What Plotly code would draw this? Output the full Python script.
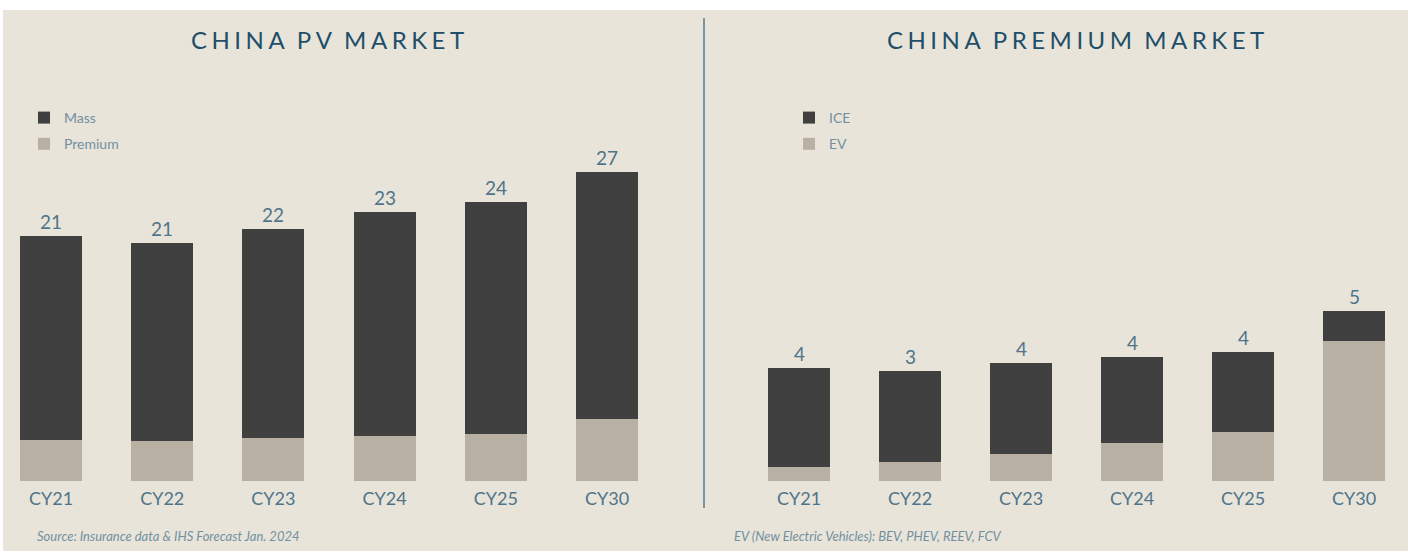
import plotly.graph_objects as go

categories = ["CY21", "CY22", "CY23", "CY24", "CY25", "CY30"]
mass = [17.7, 17.2, 18.2, 19.5, 20.2, 21.5]
premium = [3.57, 3.48, 3.74, 3.92, 4.08, 5.38]
pv_total_labels = ["21", "21", "22", "23", "24", "27"]

ice = [3.13, 2.88, 2.88, 2.72, 2.53, 0.95]
ev = [0.44, 0.60, 0.85, 1.20, 1.55, 4.43]
premium_total_labels = ["4", "3", "4", "4", "4", "5"]

W, H = 1408, 553
DARK = "#404040"
LIGHT = "#B8B0A3"
BG = "#E8E4DA"
TEAL = "#1F4F68"
LABEL = "#4F7489"
SOFT = "#7390A0"
FONT = "Lato"


def px_x(p):
    return p / W


def px_y(p):
    return 1 - p / H


def spaced(s):
    words = s.split(" ")
    return "\u2009 \u2009".join("\u2009\u200A".join(list(w)) for w in words)


fig = go.Figure()

fig.add_trace(go.Bar(x=categories, y=premium, name="Premium", marker=dict(color=LIGHT, line=dict(width=0)),
                     xaxis="x", yaxis="y", legend="legend", legendgroup="premium", legendrank=2,
                     hoverinfo="x+y"))
fig.add_trace(go.Bar(x=categories, y=mass, name="Mass", marker=dict(color=DARK, line=dict(width=0)),
                     xaxis="x", yaxis="y", legend="legend", legendgroup="mass", legendrank=1,
                     hoverinfo="x+y"))
fig.add_trace(go.Bar(x=categories, y=ev, name="EV", marker=dict(color=LIGHT, line=dict(width=0)),
                     xaxis="x2", yaxis="y2", legend="legend2", legendgroup="ev", legendrank=2,
                     hoverinfo="x+y"))
fig.add_trace(go.Bar(x=categories, y=ice, name="ICE", marker=dict(color=DARK, line=dict(width=0)),
                     xaxis="x2", yaxis="y2", legend="legend2", legendgroup="ice", legendrank=1,
                     hoverinfo="x+y"))

annotations = []
pv_totals = [a + b for a, b in zip(mass, premium)]
for c, t, lab in zip(categories, pv_totals, pv_total_labels):
    annotations.append(dict(x=c, y=t, xref="x", yref="y", text=lab, showarrow=False,
                            yanchor="bottom", yshift=1, font=dict(family=FONT, size=19, color=LABEL)))
pr_totals = [a + b for a, b in zip(ice, ev)]
for c, t, lab in zip(categories, pr_totals, premium_total_labels):
    annotations.append(dict(x=c, y=t, xref="x2", yref="y2", text=lab, showarrow=False,
                            yanchor="bottom", yshift=1, font=dict(family=FONT, size=19, color=LABEL)))

annotations += [
    dict(x=px_x(327), y=px_y(40), xref="paper", yref="paper", text=spaced("CHINA PV MARKET"),
         showarrow=False, xanchor="center", yanchor="middle",
         font=dict(family=FONT, size=24, color=TEAL)),
    dict(x=px_x(1075), y=px_y(40), xref="paper", yref="paper", text=spaced("CHINA PREMIUM MARKET"),
         showarrow=False, xanchor="center", yanchor="middle",
         font=dict(family=FONT, size=24, color=TEAL)),
    dict(x=px_x(35), y=px_y(536), xref="paper", yref="paper",
         text="<i>Source: Insurance data &amp; IHS Forecast Jan. 2024</i>",
         showarrow=False, xanchor="left", yanchor="middle",
         font=dict(family=FONT, size=13, color=SOFT)),
    dict(x=px_x(732), y=px_y(536), xref="paper", yref="paper",
         text="<i>EV (New Electric Vehicles): BEV, PHEV, REEV, FCV</i>",
         showarrow=False, xanchor="left", yanchor="middle",
         font=dict(family=FONT, size=13, color=SOFT)),
]

shapes = [
    dict(type="rect", xref="paper", yref="paper", x0=px_x(3), x1=1, y0=px_y(551), y1=px_y(10),
         fillcolor=BG, line=dict(width=0), layer="below"),
    dict(type="line", xref="paper", yref="paper", x0=px_x(704), x1=px_x(704), y0=px_y(508), y1=px_y(18),
         line=dict(color="#5A7A8C", width=1.5)),
]

y_dom = [px_y(481), px_y(100)]
axis_font = dict(family=FONT, size=18, color=LABEL)

fig.update_layout(
    width=W, height=H,
    margin=dict(l=0, r=0, t=0, b=0),
    paper_bgcolor="white",
    plot_bgcolor="rgba(0,0,0,0)",
    barmode="stack",
    bargap=0.442,
    showlegend=True,
    annotations=annotations,
    shapes=shapes,
    xaxis=dict(domain=[0, px_x(700)], range=[(0 - 51) / 111.2, (700 - 51) / 111.2],
               showgrid=False, zeroline=False, showline=False, ticks="", tickfont=axis_font,
               ticklabelstandoff=5, fixedrange=True),
    xaxis2=dict(domain=[px_x(710), 1], range=[(710 - 799) / 111.0, (1408 - 799) / 111.0],
                showgrid=False, zeroline=False, showline=False, ticks="", tickfont=axis_font,
                ticklabelstandoff=5, anchor="y2", fixedrange=True),
    yaxis=dict(domain=y_dom, range=[0, 381 / 11.5], visible=False, fixedrange=True),
    yaxis2=dict(domain=y_dom, range=[0, 381 / 31.6], visible=False, anchor="x2", fixedrange=True),
    legend=dict(x=px_x(24), y=px_y(102), xanchor="left", yanchor="top", traceorder="grouped",
                tracegroupgap=5, bgcolor="rgba(0,0,0,0)", itemwidth=30,
                font=dict(family=FONT, size=14, color=SOFT)),
    legend2=dict(x=px_x(789), y=px_y(102), xanchor="left", yanchor="top", traceorder="grouped",
                 tracegroupgap=5, bgcolor="rgba(0,0,0,0)", itemwidth=30,
                 font=dict(family=FONT, size=14, color=SOFT)),
)

fig.write_html("out.html")
